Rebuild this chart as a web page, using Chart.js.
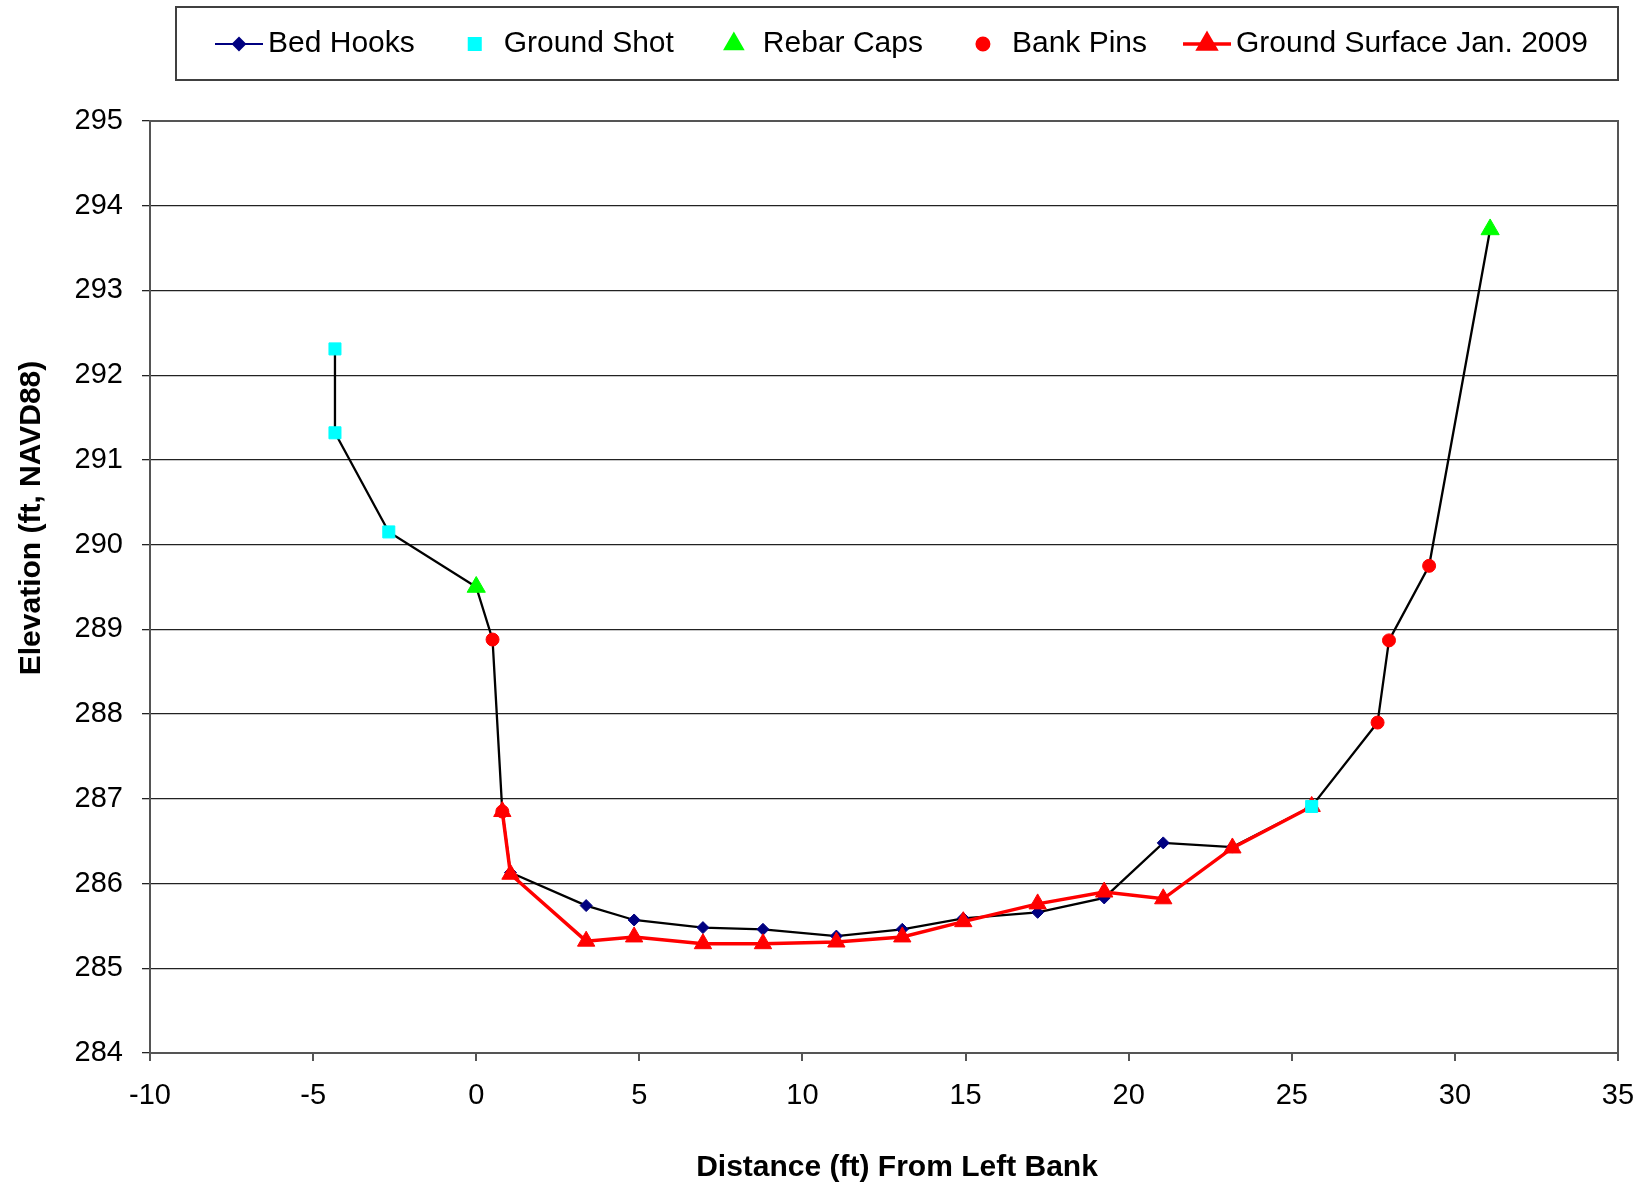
<!DOCTYPE html>
<html>
<head>
<meta charset="utf-8">
<title>Cross Section - Elevation vs Distance</title>
<script src="https://cdn.jsdelivr.net/npm/chart.js"></script>
<style>
  html, body { margin: 0; padding: 0; background: #fff; }
  #wrap { position: relative; width: 1642px; height: 1190px; }
</style>
</head>
<body>
<div id="wrap"><canvas id="xsChart"></canvas></div>
<script>
// Survey points (distance ft from left bank, elevation ft NAVD88)
const bedHookX = [1.05, 3.37, 4.84, 6.95, 8.79, 11.04, 13.06, 14.93, 17.21, 19.25, 21.06, 23.18];
const bedHookY = [286.13, 285.74, 285.57, 285.48, 285.46, 285.38, 285.46, 285.59, 285.66, 285.83, 286.48, 286.43];

const groundShotX = [-4.33, -4.33, -2.68, 25.61];
const groundShotY = [292.31, 291.32, 290.15, 286.91];

const rebarCapX = [0.0, 31.08];
const rebarCapY = [289.50, 293.72];

const bankPinX = [0.5, 0.8, 27.63, 27.98, 29.21];
const bankPinY = [288.88, 286.85, 287.90, 288.87, 289.75];

const surfaceX = [0.8, 1.05, 3.37, 4.84, 6.95, 8.79, 11.04, 13.06, 14.93, 17.21, 19.25, 21.06, 23.18, 25.61];
const surfaceY = [286.85, 286.11, 285.32, 285.37, 285.29, 285.29, 285.31, 285.37, 285.55, 285.76, 285.90, 285.82, 286.42, 286.91];

// axis ranges / ticks
const xMin = -10, xMax = 35, xStep = 5;
const yMin = 284, yMax = 295, yStep = 1;

const FONT = 'Liberation Sans, Arial, Helvetica, sans-serif';

const toPoints = (xs, ys) => xs.map((x, i) => ({ x: x, y: ys[i] }));

// the black profile line goes through every surveyed point, left to right
const profilePts = [].concat(
  toPoints(groundShotX, groundShotY),
  toPoints(rebarCapX, rebarCapY),
  toPoints(bankPinX, bankPinY),
  toPoints(bedHookX, bedHookY)
).sort((a, b) => a.x - b.x);

// legend, axis titles and plot frame, drawn Excel style
const excelBits = {
  id: 'excelBits',
  beforeDatasetsDraw(chart) {
    const { ctx, chartArea: a } = chart;
    ctx.save();
    ctx.strokeStyle = '#555';
    ctx.lineWidth = 2;
    ctx.strokeRect(a.left, a.top, a.right - a.left, a.bottom - a.top);
    ctx.restore();
  },
  afterDraw(chart) {
    const ctx = chart.ctx;
    ctx.save();

    // legend box
    ctx.strokeStyle = '#404040';
    ctx.lineWidth = 2;
    ctx.strokeRect(176, 7, 1442, 73);

    ctx.font = '30px ' + FONT;
    ctx.textBaseline = 'middle';
    ctx.textAlign = 'left';
    const cy = 44;
    let cx = 239;
    chart.data.datasets.forEach(ds => {
      if (!ds.inLegend) return;
      if (ds.legendLine) {
        ctx.strokeStyle = ds.legendLine;
        ctx.lineWidth = ds.borderWidth;
        ctx.beginPath();
        ctx.moveTo(cx - 24, cy);
        ctx.lineTo(cx + 24, cy);
        ctx.stroke();
      }
      ctx.fillStyle = ds.pointBackgroundColor;
      ctx.strokeStyle = ds.pointBackgroundColor;
      Chart.helpers.drawPoint(ctx, {
        pointStyle: ds.pointStyle, radius: ds.pointRadius, rotation: 0, borderWidth: 1
      }, cx, cy);
      ctx.fillStyle = '#000';
      ctx.fillText(ds.label, cx + 29, cy);
      cx += 29 + ctx.measureText(ds.label).width + 60;
    });

    // axis titles
    ctx.font = 'bold 30px ' + FONT;
    ctx.textAlign = 'center';
    ctx.fillStyle = '#000';
    ctx.fillText('Distance (ft) From Left Bank', 897, 1168);

    ctx.translate(32, 518);
    ctx.rotate(-Math.PI / 2);
    ctx.fillText('Elevation (ft, NAVD88)', 0, 0);
    ctx.restore();
  }
};

const ctx = document.getElementById('xsChart').getContext('2d');

new Chart(ctx, {
  type: 'scatter',
  data: {
    datasets: [
      {
        label: 'Bed Hooks',
        inLegend: true,
        legendLine: '#000080',
        data: toPoints(bedHookX, bedHookY),
        pointStyle: 'rectRot',
        pointRadius: 6,
        pointBackgroundColor: '#000080',
        pointBorderColor: '#000080',
        pointBorderWidth: 1,
        borderWidth: 2,
        showLine: false,
        order: 4
      },
      {
        label: 'Ground Shot',
        inLegend: true,
        data: toPoints(groundShotX, groundShotY),
        pointStyle: 'rect',
        pointRadius: 8.5,
        pointBackgroundColor: '#00FFFF',
        pointBorderColor: '#00FFFF',
        pointBorderWidth: 1,
        showLine: false,
        order: 2
      },
      {
        label: 'Rebar Caps',
        inLegend: true,
        data: toPoints(rebarCapX, rebarCapY),
        pointStyle: 'triangle',
        pointRadius: 10.5,
        pointBackgroundColor: '#00FF00',
        pointBorderColor: '#00FF00',
        pointBorderWidth: 1,
        showLine: false,
        order: 1
      },
      {
        label: 'Bank Pins',
        inLegend: true,
        data: toPoints(bankPinX, bankPinY),
        pointStyle: 'circle',
        pointRadius: 6.5,
        pointBackgroundColor: '#FF0000',
        pointBorderColor: '#FF0000',
        pointBorderWidth: 1,
        showLine: false,
        order: 0
      },
      {
        label: 'Ground Surface Jan. 2009',
        inLegend: true,
        legendLine: '#FF0000',
        data: toPoints(surfaceX, surfaceY),
        showLine: true,
        borderColor: '#FF0000',
        borderWidth: 3.5,
        pointStyle: 'triangle',
        pointRadius: 10,
        pointBackgroundColor: '#FF0000',
        pointBorderColor: '#FF0000',
        pointBorderWidth: 1,
        tension: 0,
        order: 3
      },
      {
        // profile line through all survey points (no legend entry of its own)
        label: 'profile',
        data: profilePts,
        showLine: true,
        borderColor: '#000',
        borderWidth: 2.3,
        pointRadius: 0,
        tension: 0,
        order: 5
      }
    ]
  },
  options: {
    responsive: true,
    maintainAspectRatio: false,
    animation: false,
    layout: { padding: { top: 121, right: 24, bottom: 0, left: 0 } },
    plugins: {
      legend: { display: false },
      tooltip: { enabled: false }
    },
    scales: {
      x: {
        type: 'linear',
        min: xMin,
        max: xMax,
        ticks: {
          stepSize: xStep,
          color: '#000',
          padding: 18,
          maxRotation: 0,
          font: { family: FONT, size: 29 }
        },
        grid: { drawOnChartArea: false, tickLength: 8, color: '#555', lineWidth: 2 },
        border: { color: '#555', width: 2 },
        afterFit: scale => {
          scale.height = 137;
          scale.paddingLeft = 0;
          scale.paddingRight = 0;
        }
      },
      y: {
        min: yMin,
        max: yMax,
        ticks: {
          stepSize: yStep,
          color: '#000',
          padding: 19,
          font: { family: FONT, size: 29 }
        },
        grid: { color: '#222', lineWidth: 1.3, tickLength: 8 },
        border: { color: '#555', width: 2 },
        afterFit: scale => { scale.width = 150; }
      }
    }
  },
  plugins: [excelBits]
});
</script>
</body>
</html>
